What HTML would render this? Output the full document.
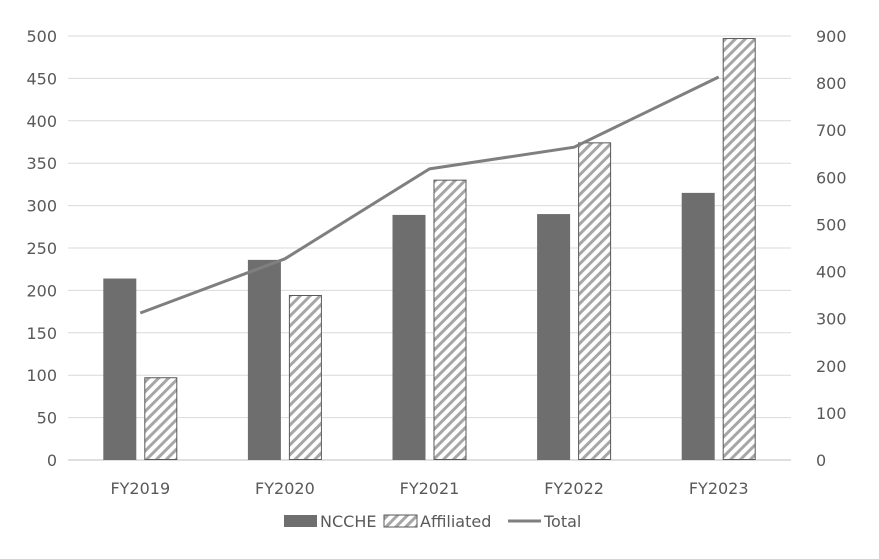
<!DOCTYPE html>
<html><head><meta charset="utf-8"><style>
body{margin:0;background:#fff}
svg{display:block;font-family:"DejaVu Sans","Liberation Sans",sans-serif}
text{fill:#595959;font-size:16px}
</style></head><body>
<svg id="chart" width="879" height="559">
<defs>
<pattern id="hatch" patternUnits="userSpaceOnUse" width="7" height="7" patternTransform="rotate(45)">
<rect width="7" height="7" fill="#fff"/>
<rect x="0" y="0" width="3" height="7" fill="#a6a6a6"/>
</pattern>
</defs>
<g id="grid"></g><g id="bars"></g><g id="line"></g><g id="axes"></g>
<g id="legend">
<rect x="284" y="515" width="33" height="12" fill="#6e6e6e"/>
<text x="320" y="527">NCCHE</text>
<rect x="384" y="515" width="33" height="12" fill="url(#hatch)" stroke="#595959"/>
<text x="420" y="527">Affiliated</text>
<line x1="508" y1="521" x2="541" y2="521" stroke="#7f7f7f" stroke-width="3"/>
<text x="544" y="527">Total</text>
</g>
</svg>
<script>
const categories=["FY2019","FY2020","FY2021","FY2022","FY2023"];
const ncche=[214,236,289,290,315];
const affiliated=[97,194,330,374,497];
const total=[312,427,618,664,813];
const leftTicks=[0,50,100,150,200,250,300,350,400,450,500];
const rightTicks=[0,100,200,300,400,500,600,700,800,900];
const NS="http://www.w3.org/2000/svg";
const X0=68,X1=791,Y0=460,Y1=36;
const band=(X1-X0)/categories.length;
const yL=v=>Y0-(v/500)*(Y0-Y1);
const yR=v=>Y0-(v/900)*(Y0-Y1);
const xC=i=>X0+band*(i+0.5);
function mk(tag,attrs,parent,txt){const e=document.createElementNS(NS,tag);for(const k in attrs)e.setAttribute(k,attrs[k]);if(txt!==undefined)e.textContent=txt;document.getElementById(parent).appendChild(e);return e;}
leftTicks.forEach(v=>{
 const l=mk('line',{x1:X0,x2:X1,y1:yL(v),y2:yL(v),stroke:v===0?'#bfbfbf':'#d9d9d9','stroke-width':1},'grid');
 
 
 const t=mk('text',{x:57,y:yL(v)+6,'text-anchor':'end'},'axes',v);
 
 
});
rightTicks.forEach(v=>{
 const t=mk('text',{x:816,y:yR(v)+6,'text-anchor':'start'},'axes',v);
 
 
});
categories.forEach((c,i)=>{
 const t=mk('text',{x:xC(i),y:494,'text-anchor':'middle'},'axes',c);
 
 
 const w=33;
 const b1=mk('rect',{x:xC(i)-w-4,y:yL(ncche[i]),width:w,height:Y0-yL(ncche[i]),fill:'#6e6e6e'},'bars');
 
 
 const b2=mk('rect',{x:xC(i)+4.5,y:yL(affiliated[i]),width:w-1,height:Y0-yL(affiliated[i])-0.5,fill:'url(#hatch)',stroke:'#595959','stroke-width':1},'bars');
 
 
});
const pts=total.map((v,i)=>xC(i)+','+yR(v)).join(' ');
const pl=mk('polyline',{points:pts,fill:'none',stroke:'#7f7f7f','stroke-width':3,'stroke-linejoin':'round'},'line');


</script>
</body></html>
